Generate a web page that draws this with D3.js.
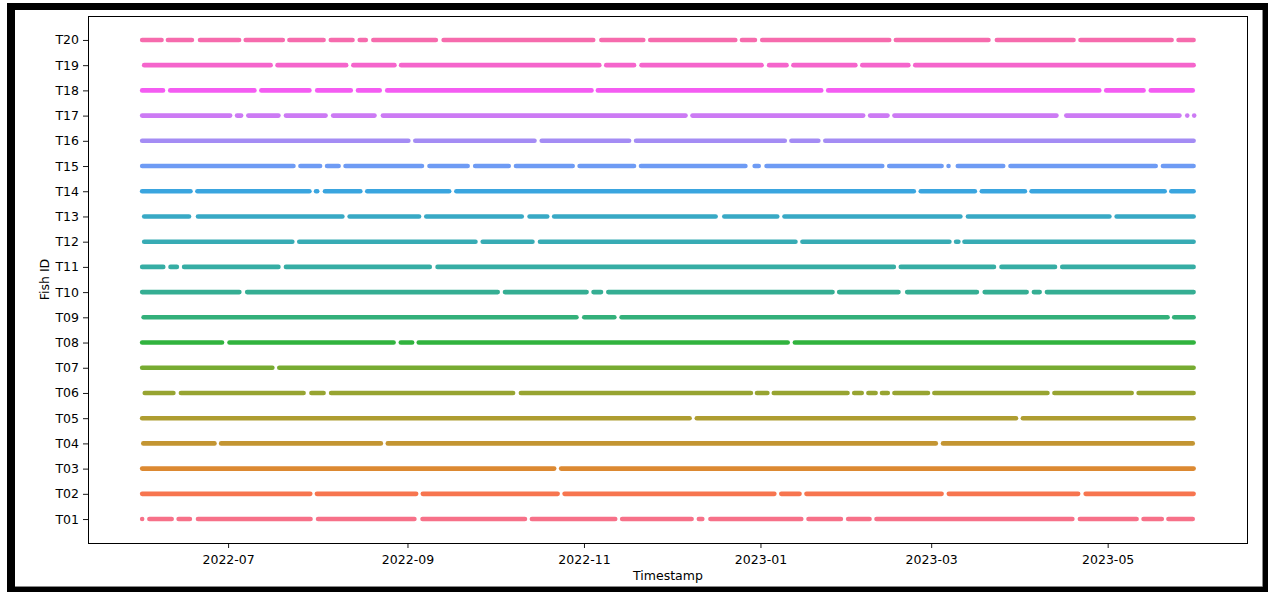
<!DOCTYPE html>
<html>
<head>
<meta charset="utf-8">
<script src="https://cdn.jsdelivr.net/npm/d3@7"></script>
<style>
  body { margin: 0; background: #fff; }
  svg { display: block; font-family: "DejaVu Sans", sans-serif; }
</style>
</head>
<body>
<div id="vis"></div>
<script>

// detections per fish, in days since the start of the study
var studyStart = "2022-06-01";

var fishIds = ["T01", "T02", "T03", "T04", "T05", "T06", "T07", "T08", "T09", "T10",
               "T11", "T12", "T13", "T14", "T15", "T16", "T17", "T18", "T19", "T20"];

var firstDay = [0.3, 0.3, 0.3, 0.7, 0.3, 1.2, 0.3, 0.3, 0.8, 0.3,
                0.3, 1.0, 1.0, 0.3, 0.3, 0.3, 0.3, 0.3, 1.0, 0.3];

var lastDay = [363.4, 363.7, 363.7, 363.4, 363.7, 363.7, 363.7, 363.7, 363.7, 363.7,
               363.7, 363.7, 363.7, 363.7, 363.7, 363.7, 363.9, 363.4, 363.7, 363.7];

// [last detection before, first detection after] for each silent period
var gapDays = [
  [[0.3, 2.8], [10.5, 12.9], [16.8, 19.6], [58.5, 61.1], [94.4, 97.2], [132.6, 135.0], [163.8, 166.2],
   [190.2, 192.7], [193.9, 196.7], [228.1, 230.6], [241.8, 244.3], [251.7, 254.1], [321.8, 324.4],
   [344.0, 346.4], [352.7, 355.0]],
  [[58.4, 60.7], [95.0, 97.3], [143.9, 146.3], [218.8, 221.2], [227.5, 229.9], [276.6, 279.1], [323.8, 326.4]],
  [[142.7, 145.1]],
  [[25.3, 27.6], [82.8, 85.2], [274.6, 277.1]],
  [[189.5, 192.0], [302.3, 304.7]],
  [[11.1, 13.7], [56.1, 58.8], [63.0, 65.6], [128.5, 131.2], [210.7, 212.8], [216.4, 218.6], [244.1, 246.4],
   [249.0, 251.3], [253.8, 256.0], [258.0, 260.3], [271.9, 274.1], [313.2, 315.6], [342.3, 344.7]],
  [[45.3, 47.7]],
  [[27.9, 30.5], [87.2, 89.7], [93.6, 95.9], [223.4, 225.9]],
  [[150.4, 153.1], [163.5, 166.0], [354.7, 357.0]],
  [[33.9, 36.6], [123.2, 125.7], [153.9, 156.3], [158.9, 161.4], [238.9, 241.2], [261.7, 264.7],
   [288.8, 291.5], [306.0, 308.5], [310.5, 313.0]],
  [[7.6, 10.1], [12.3, 14.8], [47.4, 50.0], [99.7, 102.4], [260.1, 262.5], [294.7, 297.3], [315.8, 318.3]],
  [[52.2, 54.6], [115.5, 118.0], [135.2, 137.8], [226.1, 228.5], [279.3, 281.6], [282.4, 284.5]],
  [[16.5, 19.6], [69.5, 72.0], [96.0, 98.5], [131.5, 134.2], [140.3, 142.7], [198.5, 201.5], [219.8, 222.3],
   [283.1, 285.7], [334.6, 337.1]],
  [[17.0, 19.4], [58.1, 60.4], [60.8, 63.5], [75.7, 78.1], [106.4, 108.9], [267.0, 269.4], [288.1, 290.5],
   [305.4, 307.7], [353.7, 356.0]],
  [[52.6, 55.0], [61.8, 64.2], [68.2, 70.6], [97.0, 99.6], [112.8, 115.4], [127.0, 129.5], [149.1, 151.5],
   [170.3, 172.7], [208.8, 212.0], [213.4, 216.1], [256.1, 258.5], [276.6, 279.0], [279.0, 282.2],
   [297.9, 300.4], [350.6, 353.1]],
  [[92.3, 94.7], [135.9, 138.4], [168.6, 171.0], [222.4, 224.7], [234.0, 236.4]],
  [[30.7, 33.1], [34.5, 37.0], [47.4, 50.0], [63.7, 66.3], [80.6, 83.5], [188.1, 190.5], [249.5, 251.9],
   [257.9, 260.3], [316.3, 319.7], [358.8, 361.5], [361.5, 363.9]],
  [[7.5, 10.0], [39.1, 41.5], [58.1, 60.8], [72.4, 74.9], [82.4, 85.0], [155.6, 157.8], [235.0, 237.4],
   [331.1, 333.5], [346.4, 348.9]],
  [[44.7, 47.1], [70.8, 73.3], [87.5, 89.8], [158.3, 160.7], [170.3, 172.9], [214.4, 217.0], [223.0, 225.4],
   [246.8, 249.2], [265.1, 267.5]],
  [[7.0, 9.2], [17.5, 20.3], [33.8, 36.1], [48.9, 51.2], [63.0, 65.5], [73.0, 75.5], [77.6, 80.2],
   [101.8, 104.5], [156.2, 159.0], [173.5, 175.9], [205.3, 207.6], [212.1, 214.6], [258.5, 260.8],
   [292.8, 295.7], [322.2, 324.6], [356.1, 358.5]]
];

var xTickLabels = ["2022-07", "2022-09", "2022-11", "2023-01", "2023-03", "2023-05"];
var xLimits = ["2022-05-13 14:00", "2023-06-18 12:00"];

// seaborn's husl palette
function huslColor(h, s, l)
{
  var M = [[3.2406, -1.5372, -0.4986], [-0.9689, 1.8758, 0.0415], [0.0557, -0.2040, 1.0570]];
  var hrad = h / 180 * Math.PI;
  var sinH = Math.sin(hrad), cosH = Math.cos(hrad);
  var sub1 = Math.pow(l + 16, 3) / 1560896;
  var sub2 = sub1 > 0.008856 ? sub1 : l / 903.3;
  var maxC = Infinity;
  M.forEach(function(row)
  {
    var top = (0.99915 * row[0] + 1.05122 * row[1] + 1.14460 * row[2]) * sub2;
    var rbottom = 0.86330 * row[2] - 0.17266 * row[1];
    var lbottom = 0.12949 * row[2] - 0.38848 * row[0];
    var bottom = (rbottom * sinH + lbottom * cosH) * sub2;
    [0, 1].forEach(function(t)
    {
      var c = l * (top - 1.05122 * t) / (bottom + 0.17266 * sinH * t);
      if (c > 0 && c < maxC) maxC = c;
    });
  });
  var C = maxC / 100 * s;
  var U = cosH * C, V = sinH * C;
  var Y = Math.pow((l + 16) / 116, 3);
  if (Y <= 0.008856) Y = l / 903.3;
  var varU = U / (13 * l) + 0.19784;
  var varV = V / (13 * l) + 0.46834;
  var X = -(9 * Y * varU) / ((varU - 4) * varV - varU * varV);
  var Z = (9 * Y - 15 * varV * Y - varV * X) / (3 * varV);
  var rgb = M.map(function(row)
  {
    var c = row[0] * X + row[1] * Y + row[2] * Z;
    c = c <= 0.0031308 ? 12.92 * c : 1.055 * Math.pow(c, 1 / 2.4) - 0.055;
    return Math.round(Math.max(0, Math.min(1, c)) * 255);
  });
  return d3.rgb(rgb[0], rgb[1], rgb[2]).formatHex();
}

var colors = fishIds.map(function(d, i)
{
  var h = ((i / fishIds.length + 0.01) % 1) * 359;
  return huslColor(h, 0.9 * 99, 0.65 * 99);
});

var width = 1268, height = 592;
var margin = { top: 16, right: 20, bottom: 49, left: 88 };

var svg = d3.select("#vis").append("svg")
  .attr("width", width)
  .attr("height", height);

// screenshot frame
svg.append("rect")
  .attr("x", 7).attr("y", 3)
  .attr("width", width - 7).attr("height", height - 3)
  .attr("fill", "#000");
svg.append("rect")
  .attr("x", 15).attr("y", 10)
  .attr("width", 1247).attr("height", 576)
  .attr("fill", "#fff");
svg.append("path")
  .attr("d", "M1262.5,10V586.5H15")
  .attr("fill", "none")
  .attr("stroke", "#8a8a8a");

var parseDay = d3.timeParse("%Y-%m-%d");
var parseHour = d3.timeParse("%Y-%m-%d %H:%M");
var parseMonth = d3.timeParse("%Y-%m");
var start = parseDay(studyStart);

function dayToDate(d)
{
  return new Date(start.getTime() + d * 864e5);
}

var x = d3.scaleTime()
  .domain(xLimits.map(parseHour))
  .range([margin.left, width - margin.right]);

var y = d3.scalePoint()
  .domain(fishIds)
  .range([height - margin.bottom, margin.top])
  .padding(0.95);

// split each fish's record into runs of detections
var runs = [];
fishIds.forEach(function(id, i)
{
  var s = firstDay[i];
  gapDays[i].forEach(function(g)
  {
    runs.push({ id: id, i: i, from: s, to: g[0] });
    s = g[1];
  });
  runs.push({ id: id, i: i, from: s, to: lastDay[i] });
});

svg.append("g")
  .selectAll("line")
  .data(runs)
  .enter().append("line")
  .attr("x1", function(d) { return x(dayToDate(d.from)); })
  .attr("x2", function(d) { return x(dayToDate(d.to)); })
  .attr("y1", function(d) { return y(d.id); })
  .attr("y2", function(d) { return y(d.id); })
  .attr("stroke", function(d) { return colors[d.i]; })
  .attr("stroke-width", 4.6)
  .attr("stroke-linecap", "round");

var xAxis = d3.axisBottom(x)
  .tickValues(xTickLabels.map(parseMonth))
  .tickFormat(d3.timeFormat("%Y-%m"))
  .tickSize(5)
  .tickPadding(7.5);

var yAxis = d3.axisLeft(y)
  .tickSize(5)
  .tickPadding(4);

var gx = svg.append("g")
  .attr("transform", "translate(0," + (height - margin.bottom) + ")")
  .call(xAxis);

var gy = svg.append("g")
  .attr("transform", "translate(" + margin.left + ",0)")
  .call(yAxis);

[gx, gy].forEach(function(g)
{
  g.select(".domain").remove();
  g.selectAll("line").attr("stroke", "#000").attr("stroke-width", 0.9);
  g.selectAll("text")
    .attr("fill", "#000")
    .style("font-family", "DejaVu Sans")
    .style("font-size", "12.5px");
});

// axes box
svg.append("rect")
  .attr("x", margin.left + 0.5)
  .attr("y", margin.top + 0.5)
  .attr("width", width - margin.left - margin.right - 1)
  .attr("height", height - margin.top - margin.bottom)
  .attr("fill", "none")
  .attr("stroke", "#000")
  .attr("stroke-width", 1);

svg.append("text")
  .attr("x", (margin.left + width - margin.right) / 2)
  .attr("y", 580)
  .style("text-anchor", "middle")
  .style("font-size", "12.5px")
  .text("Timestamp");

svg.append("text")
  .attr("transform", "translate(49," + ((margin.top + height - margin.bottom) / 2) + ") rotate(-90)")
  .style("text-anchor", "middle")
  .style("font-size", "12.5px")
  .text("Fish ID");

</script>
</body>
</html>
